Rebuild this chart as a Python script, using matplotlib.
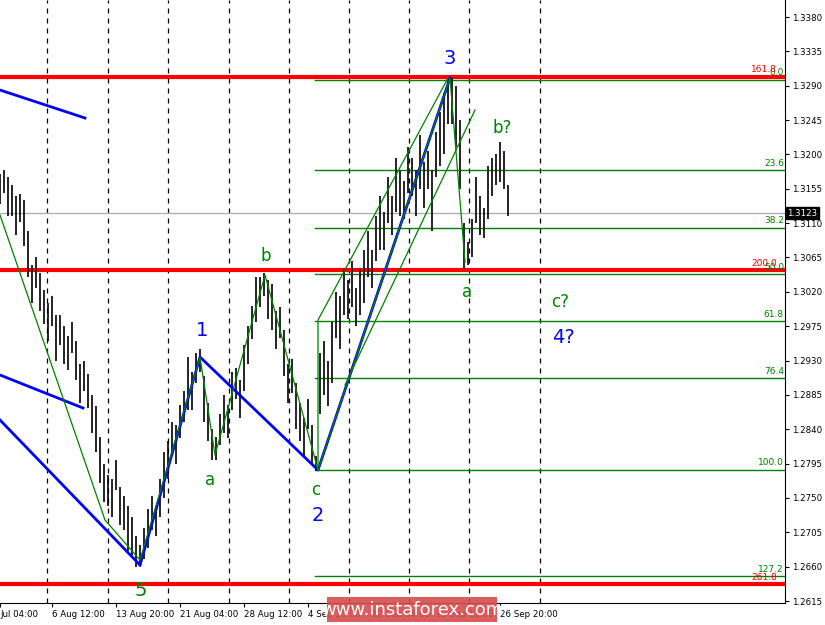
import matplotlib
matplotlib.use("Agg")
import matplotlib.pyplot as plt
from matplotlib.patches import Rectangle

# mid prices in pips above 1.2600, per bar
mids = [555,565,545,540,520,530,510,470,430,445,420,400,380,395,360,370,350,340,360,330,
        300,310,290,260,240,200,170,160,150,180,140,130,110,100,80,75,
        90,110,130,120,150,180,200,230,220,250,270,300,290,320,330,
        280,250,220,215,
        240,260,250,290,300,280,320,350,380,410,420,430,
        410,400,370,380,340,300,310,270,250,230,260,220,195,
        300,320,300,340,390,380,420,410,430,400,420,440,470,450,490,510,500,540,520,560,
        550,540,580,570,550,590,560,580,540,600,620,640,670,
        670,650,600,480,470,490,540,520,510,550,570,580,590,580,540]
spread = [20,15,25,20,25,18,30,30,25,20,25,22,25,20,30,20,25,22,20,25,
          25,20,22,25,30,30,25,20,25,20,25,22,30,25,20,13,
          20,25,22,20,25,30,25,20,25,22,20,35,25,20,15,
          30,25,20,15,
          20,25,22,25,20,25,30,25,22,30,20,15,
          25,30,25,20,30,25,22,30,25,25,20,25,10,
          40,35,30,40,30,35,30,25,30,25,30,35,30,25,30,35,25,30,25,35,
          30,25,30,25,30,35,30,25,40,30,35,40,30,
          30,40,45,30,15,25,30,25,20,35,25,20,26,25,20]
last_price = 1.3123
price_ticks = [1.3380,1.3335,1.3290,1.3245,1.3200,1.3155,1.3110,1.3065,1.3020,1.2975,1.2930,
               1.2885,1.2840,1.2795,1.2750,1.2705,1.2660,1.2615]
date_labels = ["Jul 04:00","6 Aug 12:00","13 Aug 20:00","21 Aug 04:00","28 Aug 12:00","4 Sep 20:00",
               "12 Sep 04:00","19 Sep 12:00","26 Sep 20:00"]
date_px = [0,52,116,180,244,308,372,436,500]
grid_px = [47,108,168,229,289,349,409,469,540]
fib_levels = [("0.0",1.3298),("23.6",1.3179),("38.2",1.3104),("50.0",1.3043),("61.8",1.2982),
              ("76.4",1.2907),("100.0",1.2787),("127.2",1.2648)]
red_levels = [("161.8",1.3302),("200.0",1.3048),("261.8",1.2637)]

W = 785
fig = plt.figure(figsize=(8.25,6.25), dpi=100)
ax = fig.add_axes([0, 22/625, W/825, 603/625])
X = lambda px: px/4.0
ax.set_xlim(0, X(W))
ax.set_ylim(1.26124, 1.34023)

for g in grid_px:
    ax.axvline(X(g), color='black', ls=(0,(4,4)), lw=0.9, zorder=0)
ax.axhline(last_price, color='#b0b0b0', lw=1, zorder=1)

for i,(m,s) in enumerate(zip(mids, spread)):
    hi = 1.26 + (m+s)/10000; lo = 1.26 + (m-s)/10000
    ax.vlines(i, lo, hi, color='black', lw=1.2, zorder=3)

for name,v in fib_levels:
    ax.plot([X(315), X(W)], [v,v], color='green', lw=1, zorder=2)
    ax.text(X(W-1), v+0.0003, name, color='green', fontsize=6.5, ha='right', va='bottom')
for name,v in red_levels:
    ax.axhline(v, color='red', lw=3, zorder=2)
    ax.text(X(W-8), v+0.0003, name, color='red', fontsize=6.5, ha='right', va='bottom')

def pline(pts, color, lw):
    xs = [X(p[0]) for p in pts]
    ys = [1.3380-(p[1]-17)/7634 for p in pts]
    ax.plot(xs, ys, color=color, lw=lw, zorder=4)

pline([(140,565),(200,357),(318,470),(450,78)], 'blue', 2)
pline([(0,90),(85,118)], 'blue', 2)
pline([(0,375),(83,408)], 'blue', 2)
pline([(0,420),(140,565)], 'blue', 2)
pline([(0,215),(105,520),(140,560),(200,357),(215,455),(265,275),(318,470)], 'green', 0.9)
pline([(318,470),(318,320),(448,78)], 'green', 0.9)
pline([(345,385),(475,110)], 'green', 0.9)
pline([(318,470),(450,78),(465,262)], 'green', 0.9)

def lab(px, py, s, c, fs=14):
    ax.text(X(px), 1.3380-(py-17)/7634, s, color=c, fontsize=fs, ha='center', va='center', zorder=6)
lab(450,58,"3",'blue'); lab(202,330,"1",'blue'); lab(318,515,"2",'blue')
lab(563,337,"4?",'blue'); lab(141,590,"5",'green'); lab(210,480,"a",'green',12)
lab(266,256,"b",'green',12); lab(316,490,"c",'green',12); lab(467,292,"a",'green',12)
lab(502,128,"b?",'green',12); lab(560,302,"c?",'green',12)

ax.yaxis.tick_right()
ax.set_yticks(price_ticks)
ax.set_yticklabels([f"{p:.4f}" for p in price_ticks], fontsize=6.2)
ax.set_xticks([X(p) for p in date_px])
ax.set_xticklabels(date_labels, fontsize=6.2, ha='left')
ax.tick_params(length=3, pad=2)
for s in ['top','left']:
    ax.spines[s].set_visible(False)
ax.text(1.003, (last_price-1.26124)/(1.34023-1.26124), "1.3123", transform=ax.transAxes,
        color='white', fontsize=6.2, va='center', ha='left',
        bbox=dict(boxstyle='square,pad=0.2', fc='black', ec='black'))

fig.patches.append(Rectangle((327/825, 3/625), 170/825, 25/625, transform=fig.transFigure,
                             fc='#d85050', alpha=0.92, ec='none', zorder=10))
fig.text(412/825, 15/625, "www.instaforex.com", color='white', fontsize=13, ha='center', va='center', zorder=11)
fig.savefig("out.png", dpi=100)
